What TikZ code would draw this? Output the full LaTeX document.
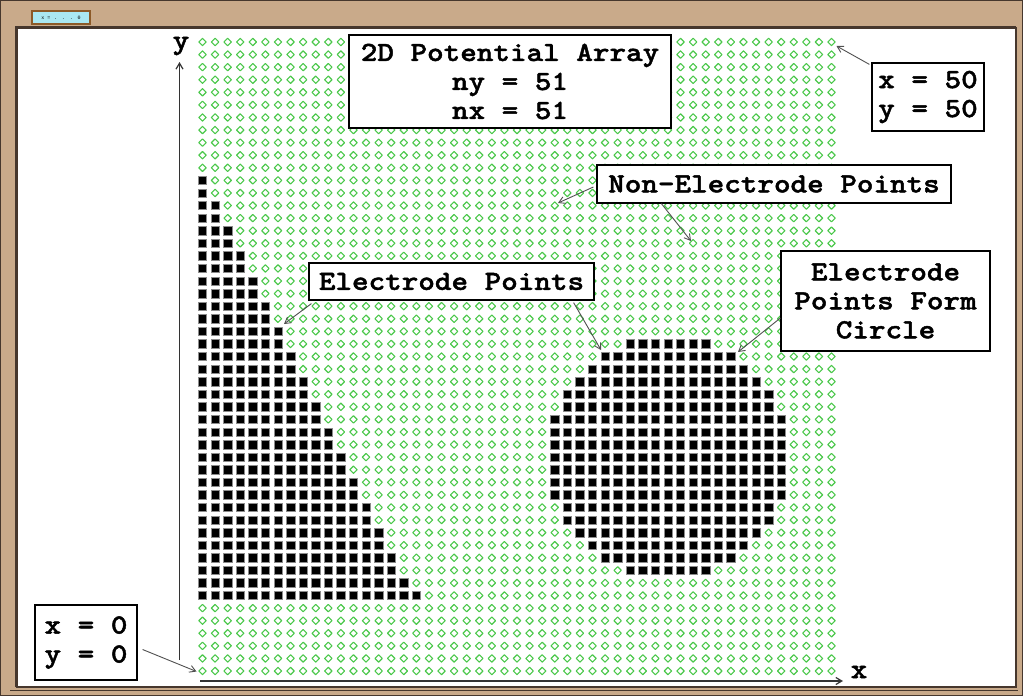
\documentclass[tikz,border=0pt]{standalone}
\usepackage{fontspec}
\usetikzlibrary{arrows.meta}
\newfontfamily\cour{lmmonolt10-bold}[Extension=.otf, FakeStretch=1.14, FakeBold=1.6]
\newfontfamily\courreg{Liberation Mono}
\definecolor{tan}{RGB}{201,170,138}
\definecolor{framedark}{RGB}{70,55,45}
\definecolor{ptgreen}{RGB}{75,200,75}
\definecolor{arrgray}{RGB}{80,80,80}
\definecolor{widgetblue}{RGB}{170,232,242}
\definecolor{widgetbrown}{RGB}{140,90,40}
\tikzset{
  lbl/.style={draw=black, line width=1.2pt, fill=white, inner sep=0pt,
    font=\cour\fontsize{27.7}{29}\selectfont},
  axlbl/.style={inner sep=0pt, font=\cour\fontsize{28}{29}\selectfont},
  ptr/.style={draw=arrgray, line width=0.9pt, -{Straight Barb[length=6pt,width=7pt]}},
  axis/.style={draw=black!80, line width=1.2pt, -{Straight Barb[length=6pt,width=7pt]}},
  elec/.style={fill=black, draw=black!45, line width=0.5pt},
  nonelec/.style={draw=ptgreen, line width=1.1pt, line join=round}
}
\begin{document}
\begin{tikzpicture}[x=1pt,y=-1pt]
\useasboundingbox (0,0) rectangle (1023,696);
% frame
\fill[tan] (0,0) rectangle (1023,696);
\draw[framedark, line width=1pt] (0.5,0.5) rectangle (1022.5,695.5);
\fill[white] (17,28) rectangle (1016,687);
\draw[framedark, line width=1.5pt] (17,28) rectangle (1016,687);
\draw[framedark, line width=3pt] (16.5,687) -- (16.5,27.5) -- (1016,27.5);
\draw[framedark, line width=0.8pt] (10,690) -- (1018,690);
% top-left widget
\node[draw=widgetbrown, line width=2pt, fill=widgetblue, minimum width=58pt,
  minimum height=13pt, inner sep=0pt, font=\fontsize{5}{5}\selectfont\courreg]
  (widget) at (61,17.5) {x =\, .\, .\, .\, 0};
% grid of points
\foreach \i in {0,...,50}{
  \foreach \j in {0,...,50}{
    \pgfmathsetmacro{\px}{202.5+12.58*\i}
    \pgfmathsetmacro{\py}{671-12.58*\j}
    \pgfmathtruncatemacro{\e}{((\j>=6) && (\j<=39) && (\i<=floor((39-\j)/2)+(\j==6))) || ((\i-37)*(\i-37)+(\j-17)*(\j-17)<=90.25)}
    \ifnum\e=1
      \draw[elec] (\px-4.2,\py-4.2) rectangle (\px+4.2,\py+4.2);
    \else
      \draw[nonelec] (\px,\py-3.7) -- (\px+3.7,\py) -- (\px,\py+3.7) -- (\px-3.7,\py) -- cycle;
    \fi
  }
}
% axes
\node[axlbl] (ylab) at (181,46) {y};
\node[axlbl] (xlab) at (859,672) {x};
\coordinate (ybot) at (179.5,660);
\coordinate (ytop) at (179.5,62);
\coordinate (xleft) at (200,681);
\coordinate (xright) at (843,681);
\draw[axis] (ybot) -- (ytop);
\draw[axis] (xleft) -- (xright);
% label boxes
\node[lbl, minimum width=322pt, minimum height=93pt, align=center] (title) at (510,81.5)
  {2D Potential Array\\ny = 51\\nx = 51};
\node[lbl, minimum width=112pt, minimum height=68pt, align=left] (maxpt) at (928,97)
  {x = 50\\y = 50};
\node[lbl, minimum width=354pt, minimum height=38pt] (ne) at (774,184)
  {Non-Electrode Points};
\node[lbl, minimum width=285pt, minimum height=37pt] (ep) at (451.5,281.5)
  {Electrode Points};
\node[lbl, minimum width=209pt, minimum height=100pt, align=center] (cb) at (885.5,301)
  {Electrode\\Points Form\\Circle};
\node[lbl, minimum width=102pt, minimum height=75pt, align=left] (org) at (86,642.5)
  {x = 0\\y = 0};
% pointer targets
\coordinate (tmax) at (836.5,46);
\coordinate (tne1) at (558,203);
\coordinate (tne2) at (691,241);
\coordinate (tep1) at (284,324);
\coordinate (tep2) at (601,350);
\coordinate (tcb) at (738,352);
\coordinate (torg) at (196.5,671.5);
% pointers
\draw[ptr] ([xshift=-2pt,yshift=-2pt]maxpt.north west) -- (tmax);
\draw[ptr] ([xshift=-3pt,yshift=-3pt]ne.west) -- (tne1);
\draw[ptr] ([xshift=65pt]ne.south west) -- (tne2);
\draw[ptr] ([xshift=3pt,yshift=-3pt]ep.south west) -- (tep1);
\draw[ptr] ([xshift=-21pt,yshift=-2pt]ep.south east) -- (tep2);
\draw[ptr] ([yshift=-17pt]cb.west) -- (tcb);
\draw[ptr] ([xshift=5pt,yshift=-7pt]org.east) -- (torg);
\end{tikzpicture}
\end{document}
